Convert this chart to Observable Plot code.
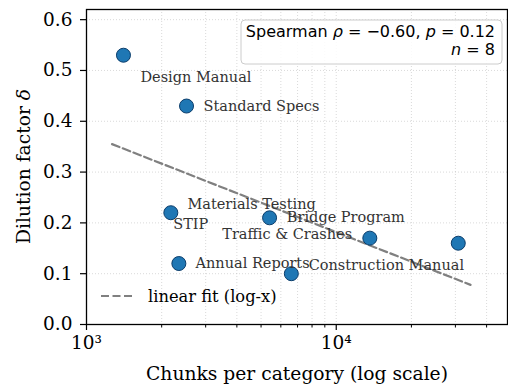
<!DOCTYPE html>
<html><head><meta charset="utf-8">
<script src="https://cdn.jsdelivr.net/npm/d3@7"></script>
<script src="https://cdn.jsdelivr.net/npm/@observablehq/plot@0.6"></script>
<style>body{margin:0;background:#fff}#chart{width:508px;height:385px}</style>
</head><body><div id="chart"></div>
<script>
// ---- data ----
const categories = ["Design Manual","Standard Specs","Materials Testing","Annual Reports","Bridge Program","Construction Manual","Traffic & Crashes","STIP"];
const chunks = [1406, 2515, 2176, 2343, 5408, 6610, 13630, 30800];
const dilution = [0.53, 0.43, 0.22, 0.12, 0.21, 0.10, 0.17, 0.16];
const fitChunks = [1265, 34500];
const fitDilution = [0.355, 0.078];
const yTicks = [0, 0.1, 0.2, 0.3, 0.4, 0.5, 0.6];
const xMajorTicks = [1000, 10000];
const xMajorLabels = ["10³", "10⁴"];
const xMinorTicks = [2000,3000,4000,5000,6000,7000,8000,9000,20000,30000,40000];
const spearmanRho = "−0.60", spearmanP = "0.12", sampleN = "8";
const legendLabel = "linear fit (log-x)";
const xLabel = "Chunks per category (log scale)";
const yLabelText = "Dilution factor ", yLabelSymbol = "δ";
// label placement offsets (px, style only)
const labelDx = [17, 17, 16.6, 16.7, 17.3, 17.3, -147.6, -285];
const labelDy = [22.6, 0, -8.3, -0.5, -0.6, -8.3, -4, -18.4];

const points = categories.map((c, i) => ({category: c, chunks: chunks[i], dilution: dilution[i]}));
const fit = fitChunks.map((x, i) => ({chunks: x, dilution: fitDilution[i]}));

const serif = "DejaVu Serif";
const sans = "DejaVu Sans";

function statsBox(index, scales, values, dim) {
  const g = d3.create("svg:g");
  const right = dim.width - dim.marginRight;
  const top = dim.marginTop;
  g.append("rect").attr("x", right - 266).attr("y", top + 11).attr("width", 261).attr("height", 44)
    .attr("rx", 4).attr("fill", "white").attr("fill-opacity", 0.85).attr("stroke", "#cccccc").attr("stroke-width", 1);
  const t1 = g.append("text").attr("x", right - 12).attr("y", top + 28.3).attr("text-anchor", "end")
    .attr("font-family", sans).attr("font-size", 16).attr("fill", "#000");
  t1.append("tspan").text("Spearman ");
  t1.append("tspan").attr("font-style", "italic").text("ρ");
  t1.append("tspan").text(" = " + spearmanRho + ", ");
  t1.append("tspan").attr("font-style", "italic").text("p");
  t1.append("tspan").text(" = " + spearmanP);
  const t2 = g.append("text").attr("x", right - 12).attr("y", top + 46.3).attr("text-anchor", "end")
    .attr("font-family", sans).attr("font-size", 16).attr("fill", "#000");
  t2.append("tspan").attr("font-style", "italic").text("n");
  t2.append("tspan").text(" = " + sampleN);
  return g.node();
}

function legend(index, scales, values, dim) {
  const g = d3.create("svg:g");
  const left = dim.marginLeft;
  const bottom = dim.height - dim.marginBottom;
  g.append("line").attr("x1", left + 15).attr("x2", left + 48).attr("y1", bottom - 28).attr("y2", bottom - 28)
    .attr("stroke", "#808080").attr("stroke-width", 2.2).attr("stroke-dasharray", "8,3.5");
  g.append("text").attr("x", left + 62).attr("y", bottom - 28).attr("dy", "0.35em").attr("text-anchor", "start")
    .attr("font-family", serif).attr("font-size", 16.3).attr("fill", "#000").text(legendLabel);
  return g.node();
}

function yTitle(index, scales, values, dim) {
  const cy = (dim.marginTop + dim.height - dim.marginBottom) / 2;
  const t = d3.create("svg:text").attr("transform", `translate(30,${cy}) rotate(-90)`)
    .attr("text-anchor", "middle").attr("font-family", serif).attr("font-size", 18.7).attr("fill", "#000");
  t.append("tspan").text(yLabelText);
  t.append("tspan").attr("font-style", "italic").text(yLabelSymbol);
  return t.node();
}

const labelMarks = points.map((p, i) => Plot.text([p], {
  x: "chunks", y: "dilution", text: "category", textAnchor: "start",
  dx: labelDx[i], dy: labelDy[i], fontSize: 14.5, fontFamily: serif, fill: "#333333"
}));

const chart = Plot.plot({
  width: 508, height: 385,
  marginLeft: 86, marginRight: 1, marginTop: 9, marginBottom: 61,
  style: {fontFamily: serif, background: "white"},
  x: {type: "log", domain: [1000, 48500]},
  y: {domain: [0, 0.62]},
  marks: [
    Plot.gridX(xMajorTicks.concat(xMinorTicks), {stroke: "#b0b0b0", strokeOpacity: 0.6, strokeDasharray: "1,2", strokeWidth: 0.8}),
    Plot.gridY(yTicks, {stroke: "#b0b0b0", strokeOpacity: 0.6, strokeDasharray: "1,2", strokeWidth: 0.8}),
    Plot.line(fit, {x: "chunks", y: "dilution", stroke: "#808080", strokeWidth: 2.2, strokeDasharray: "8,3.5"}),
    Plot.dot(points, {x: "chunks", y: "dilution", r: 7, fill: "#1f77b4", stroke: "#0b3d6b", strokeWidth: 1}),
    ...labelMarks,
    Plot.axisY({ticks: yTicks, tickFormat: d3.format(".1f"), tickSize: 6, tickPadding: 8, fontSize: 18.5, label: null, strokeWidth: 1.2, color: "#000"}),
    Plot.axisX({ticks: xMajorTicks, tickFormat: (d) => xMajorLabels[xMajorTicks.indexOf(d)], tickSize: 6, tickPadding: 5, fontSize: 18.5, label: null, strokeWidth: 1.2, color: "#000"}),
    Plot.axisX({ticks: xMinorTicks, tickFormat: () => "", tickSize: 3.5, label: null, strokeWidth: 1}),
    Plot.frame({stroke: "#000", strokeWidth: 1.3}),
    Plot.text([xLabel], {frameAnchor: "bottom", dy: 55, fontSize: 18.7, fontFamily: serif, fill: "#000"}),
    yTitle,
    statsBox,
    legend
  ]
});
document.getElementById("chart").appendChild(chart);
</script>
</body></html>
